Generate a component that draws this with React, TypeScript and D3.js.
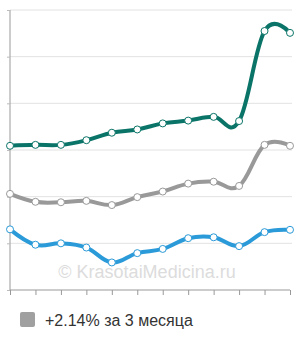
import React, { useEffect, useRef } from "react";
import * as d3 from "d3";

const months = ["1", "2", "3", "4", "5", "6", "7", "8", "9", "10", "11", "12"];
const tealValues = [3.09, 3.11, 3.11, 3.21, 3.37, 3.44, 3.57, 3.63, 3.71, 3.62, 5.55, 5.51];
const grayValues = [2.06, 1.89, 1.88, 1.91, 1.82, 1.99, 2.11, 2.28, 2.32, 2.23, 3.11, 3.09];
const blueValues = [1.3, 0.97, 1.0, 0.91, 0.59, 0.79, 0.88, 1.11, 1.13, 0.94, 1.24, 1.29];
const yTicks = [0, 1, 2, 3, 4, 5, 6];
const legendLabel = "+2.14% за 3 месяца";
const watermark = "© KrasotaiMedicina.ru";

const App = () => {
    const ref = useRef<SVGSVGElement>(null);

    useEffect(() => {
        const svg = d3.select(ref.current);
        svg.selectAll("*").remove();

        const x = d3.scalePoint().domain(months).range([10, 290]);
        const y = d3.scaleLinear().domain([0, 6]).range([290, 10]);

        // gridlines
        svg.append("g")
            .selectAll("line")
            .data(yTicks.slice(1))
            .join("line")
            .attr("x1", 10)
            .attr("x2", 292)
            .attr("y1", (d) => y(d))
            .attr("y2", (d) => y(d))
            .attr("stroke", "#e2e2e2")
            .attr("stroke-width", 1);

        // watermark
        svg.append("text")
            .attr("x", 147)
            .attr("y", 278)
            .attr("text-anchor", "middle")
            .attr("font-family", "Arial, 'Liberation Sans', sans-serif")
            .attr("font-size", 18)
            .attr("fill", "#dcdcdc")
            .text(watermark);

        // y axis
        svg.append("g")
            .attr("transform", "translate(10,0)")
            .call(d3.axisLeft(y).tickValues(yTicks).tickSize(3).tickFormat(() => ""))
            .call((g) => g.select(".domain").attr("stroke", "#999").attr("d", "M0,10V290"))
            .call((g) => g.selectAll(".tick line").attr("stroke", "#bbb"));

        // x axis
        svg.append("g")
            .attr("transform", "translate(0,290)")
            .call(d3.axisBottom(x).tickSize(5).tickFormat(() => ""))
            .call((g) => g.select(".domain").attr("stroke", "#999").attr("d", "M10,0H290"))
            .call((g) => g.selectAll(".tick line").attr("stroke", "#999"));

        const series = [
            { values: grayValues, color: "#999999" },
            { values: blueValues, color: "#2a9ad8" },
            { values: tealValues, color: "#0b7468" },
        ];

        const line = d3.line<number>()
            .x((d, i) => x(months[i]) as number)
            .y((d) => y(d))
            .curve(d3.curveCardinal.tension(-0.15));

        series.forEach((s) => {
            svg.append("path")
                .datum(s.values)
                .attr("fill", "none")
                .attr("stroke", s.color)
                .attr("stroke-width", 4)
                .attr("stroke-linejoin", "round")
                .attr("d", line);

            svg.append("g")
                .selectAll("circle")
                .data(s.values)
                .join("circle")
                .attr("cx", (d, i) => x(months[i]) as number)
                .attr("cy", (d) => y(d))
                .attr("r", 3.5)
                .attr("fill", "#fff")
                .attr("stroke", s.color)
                .attr("stroke-width", 1);
        });

        // legend
        const legend = svg.append("g").attr("transform", "translate(20,312)");
        legend.append("rect")
            .attr("width", 15)
            .attr("height", 15)
            .attr("rx", 2)
            .attr("fill", "#a0a0a0");
        legend.append("text")
            .attr("x", 25)
            .attr("y", 14)
            .attr("font-family", "Arial, 'Liberation Sans', sans-serif")
            .attr("font-size", 16)
            .attr("fill", "#333")
            .text(legendLabel);
    }, []);

    return (
        <svg
            ref={ref}
            width={300}
            height={340}
            style={{ position: "absolute", left: 0, top: 0, background: "#fff" }}
        />
    );
};

export default App;
